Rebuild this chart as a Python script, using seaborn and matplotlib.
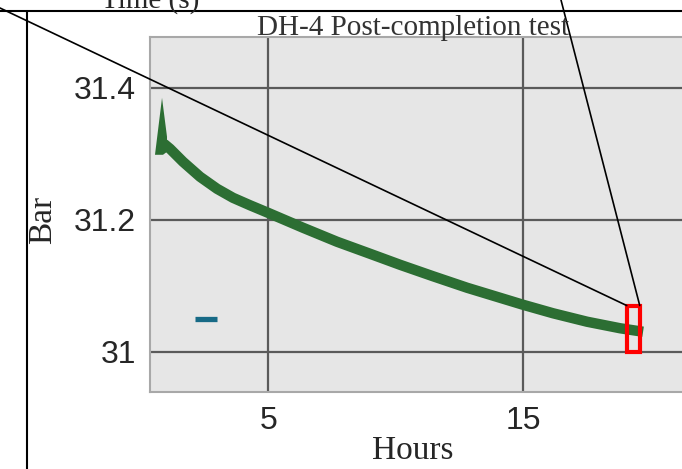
import numpy as np
import pandas as pd
import matplotlib.pyplot as plt
import seaborn as sns
from matplotlib.patches import Rectangle, ConnectionPatch

# pressure curve
hours = [0.90, 1.136, 1.647, 2.315, 2.983, 3.611, 4.279, 4.986, 6.362, 7.698, 8.994,
         10.173, 11.470, 12.806, 14.102, 15.006, 16.185, 17.521, 18.818, 19.721]
bar = [31.3152, 31.3076, 31.2879, 31.2652, 31.2470, 31.2333, 31.2220, 31.2106, 31.1879,
       31.1667, 31.1485, 31.1318, 31.1144, 31.0970, 31.0818, 31.0712, 31.0583, 31.0455,
       31.0356, 31.0303]

# thin spike at the start of the record
spike_x = [0.546, 0.822, 1.018, 1.018, 0.861]
spike_y = [31.2985, 31.3848, 31.3258, 31.303, 31.2985]

# small blue dash (legend remnant)
dash_x = [2.12, 2.98]
dash_y = [31.049, 31.049]

# zoom box around the end of the test
box_x = [19.08, 19.59]
box_y = [31.0, 31.070]

xticks = [5, 15]
yticks = [31.0, 31.2, 31.4]
yticklabels = ['31', '31.2', '31.4']

sns.set_style('darkgrid', {'axes.facecolor': '#e6e6e6', 'grid.color': '#5a5a5a',
                           'axes.edgecolor': '#a8a8a8'})
plt.rcParams['font.family'] = ['Liberation Serif', 'DejaVu Serif']

fig = plt.figure(figsize=(6.82, 4.69), dpi=100)
ax = fig.add_axes([150 / 682, 1 - 392 / 469, 532 / 682 + 0.01, 355 / 469])

green = '#2c6e33'
df = pd.DataFrame({'Hours': hours, 'Bar': bar})
sns.lineplot(data=df, x='Hours', y='Bar', ax=ax, color=green, lw=7.5, sort=False)
for l in ax.lines:
    l.set_solid_capstyle('butt')
ax.fill(spike_x, spike_y, color=green, lw=0)
ax.plot(dash_x, dash_y, color='#176a86', lw=3.8, solid_capstyle='butt')

ax.add_patch(Rectangle((box_x[0], box_y[0]), box_x[1] - box_x[0], box_y[1] - box_y[0],
                       fill=False, edgecolor='#ff0000', lw=3, zorder=5))

ax.set_xlim(0.35, 21.25 + 0.01 * 682 / 25.45)
ax.set_ylim(30.939, 31.477)
ax.set_xticks(xticks)
ax.set_yticks(yticks)
ax.set_yticklabels(yticklabels)
ax.grid(True, lw=1.6)
ax.tick_params(length=0, labelsize=23, pad=10)
for lab in ax.get_xticklabels() + ax.get_yticklabels():
    lab.set_family('Liberation Sans')
for side in ['left', 'top', 'bottom']:
    ax.spines[side].set_visible(True)
    ax.spines[side].set_linewidth(1.5)
ax.spines['right'].set_visible(False)

ax.set_xlabel('Hours', fontsize=24)
ax.set_ylabel('Bar', fontsize=24)
ax.xaxis.set_label_coords(0.487, -0.122)
ax.yaxis.set_label_coords(-0.17, 0.485)

fig.text(413 / 682, 1 - 35 / 469, 'DH-4 Post-completion test', fontsize=21,
         ha='center', va='baseline', color='#333333')
fig.text(150 / 682, 1 - 8 / 469, 'Time (s)', fontsize=21, ha='center', va='baseline')

# outer frame of the parent figure
fig.add_artist(plt.Line2D([0, 1], [1 - 11 / 469] * 2, color='black', lw=1.5))
fig.add_artist(plt.Line2D([27 / 682] * 2, [0, 1 - 11 / 469], color='black', lw=1.5))

# connector lines from the zoom box
for xy_box, xy_fig in [((box_x[0], box_y[1]), (0.0, 1 - 8 / 469)),
                       ((box_x[1], box_y[1]), (561 / 682, 1.0))]:
    con = ConnectionPatch(xyA=xy_box, coordsA=ax.transData, xyB=xy_fig,
                          coordsB=fig.transFigure, color='black', lw=1.2)
    fig.add_artist(con)

fig.savefig('out.png', dpi=100)
